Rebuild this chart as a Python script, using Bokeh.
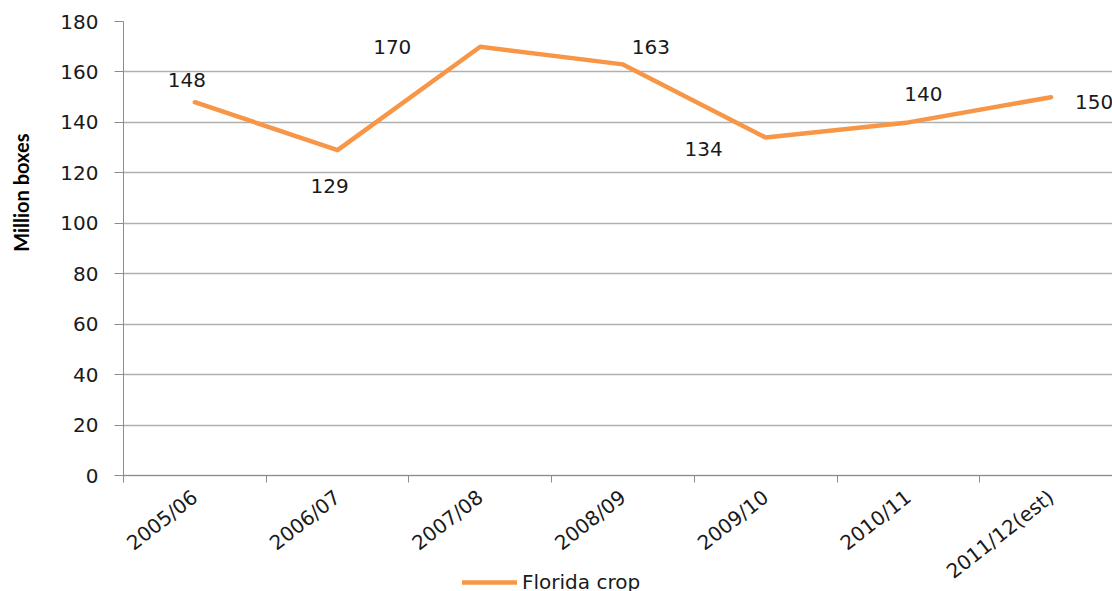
import math
from bokeh.plotting import figure
from bokeh.models import (ColumnDataSource, Range1d, FixedTicker, Title, Legend, LegendItem)
from bokeh.core.properties import value
from bokeh.embed import file_html
from bokeh.resources import INLINE

# ---- data ----
seasons = ["2005/06", "2006/07", "2007/08", "2008/09", "2009/10", "2010/11", "2011/12(est)"]
florida_crop = [148, 129, 170, 163, 134, 140, 150]
y_ticks = [0, 20, 40, 60, 80, 100, 120, 140, 160, 180]

# label offsets (pixels, screen: +y is down) - style only
label_dx = [-8, -8, -88, 28, -62, 15, 43]
label_dy = [-22, 36, 0, -17, 11, -28, 5]

x_pos = [i + 0.5 for i in range(len(seasons))]
src = ColumnDataSource(dict(x=x_pos, y=florida_crop,
                            txt=[str(v) for v in florida_crop],
                            dx=label_dx, dy=label_dy))

FONT = "DejaVu Sans"
FS = "20px"
GRID = "#B0B0B0"
AXIS = "#8C8C8C"
ORANGE = "#F79646"
TXT = "#1a1a1a"

W, H = 1112, 591
LEFT, TOP = 123, 21
ZERO_PX = 475
px_per_unit = (ZERO_PX - TOP) / 180.0
y_min = -(H - ZERO_PX) / px_per_unit
x_max = (W - LEFT) / 142.7
tick_len_units = 7 / px_per_unit

p = figure(width=W, height=H, output_backend="svg", toolbar_location=None,
           x_range=Range1d(0, x_max), y_range=Range1d(y_min, 180),
           min_border_left=LEFT, min_border_right=0, min_border_top=TOP, min_border_bottom=0)
p.outline_line_color = None
p.background_fill_color = "white"
p.border_fill_color = "white"

line = p.line("x", "y", source=src, line_color=ORANGE, line_width=4.5, line_cap="round", line_join="round")
p.text("x", "y", text="txt", source=src, x_offset="dx", y_offset="dy",
       text_align="center", text_baseline="middle", text_font=value(FONT),
       text_font_size=FS, text_color=TXT)

# y axis
yax = p.yaxis[0]
yax.ticker = FixedTicker(ticks=y_ticks)
yax.bounds = (-tick_len_units, 180)
yax.axis_line_color = AXIS
yax.major_tick_line_color = AXIS
yax.major_tick_out = 9
yax.major_tick_in = 0
yax.minor_tick_line_color = None
yax.major_label_text_font = FONT
yax.major_label_text_font_size = FS
yax.major_label_text_color = TXT
yax.major_label_standoff = 16
yax.axis_label = " "
yax.axis_label_text_font_size = "1px"
yax.axis_label_standoff = 16

# x axis (fixed at y = 0)
xax = p.xaxis[0]
xax.fixed_location = 0
xax.ticker = FixedTicker(ticks=x_pos, minor_ticks=list(range(len(seasons) + 1)))
xax.major_label_overrides = {x: s for x, s in zip(x_pos, seasons)}
xax.major_label_orientation = math.radians(38)
xax.axis_line_color = AXIS
xax.major_tick_line_color = None
xax.minor_tick_line_color = AXIS
xax.minor_tick_out = 7
xax.minor_tick_in = 0
xax.major_label_text_font = FONT
xax.major_label_text_font_size = FS
xax.major_label_text_color = TXT
xax.major_label_standoff = 12

p.xgrid.grid_line_color = None
p.ygrid.grid_line_color = GRID
p.ygrid.grid_line_width = 1.5
p.ygrid.ticker = FixedTicker(ticks=y_ticks)

# y title
p.add_layout(Title(text="Million boxes", align="right", offset=112, standoff=10,
                   text_font="Lato", text_font_style="bold", text_font_size="20px",
                   text_color="#000000"), "left")

legend = Legend(items=[LegendItem(label="Florida crop", renderers=[line])],
                location=(339, -3), padding=0, margin=0, glyph_width=55, glyph_height=20,
                label_standoff=5, label_text_font=FONT, label_text_font_size=FS,
                label_text_color=TXT, border_line_color=None, background_fill_alpha=0)
p.add_layout(legend, "center")

open("out.html", "w").write(file_html(p, INLINE))
